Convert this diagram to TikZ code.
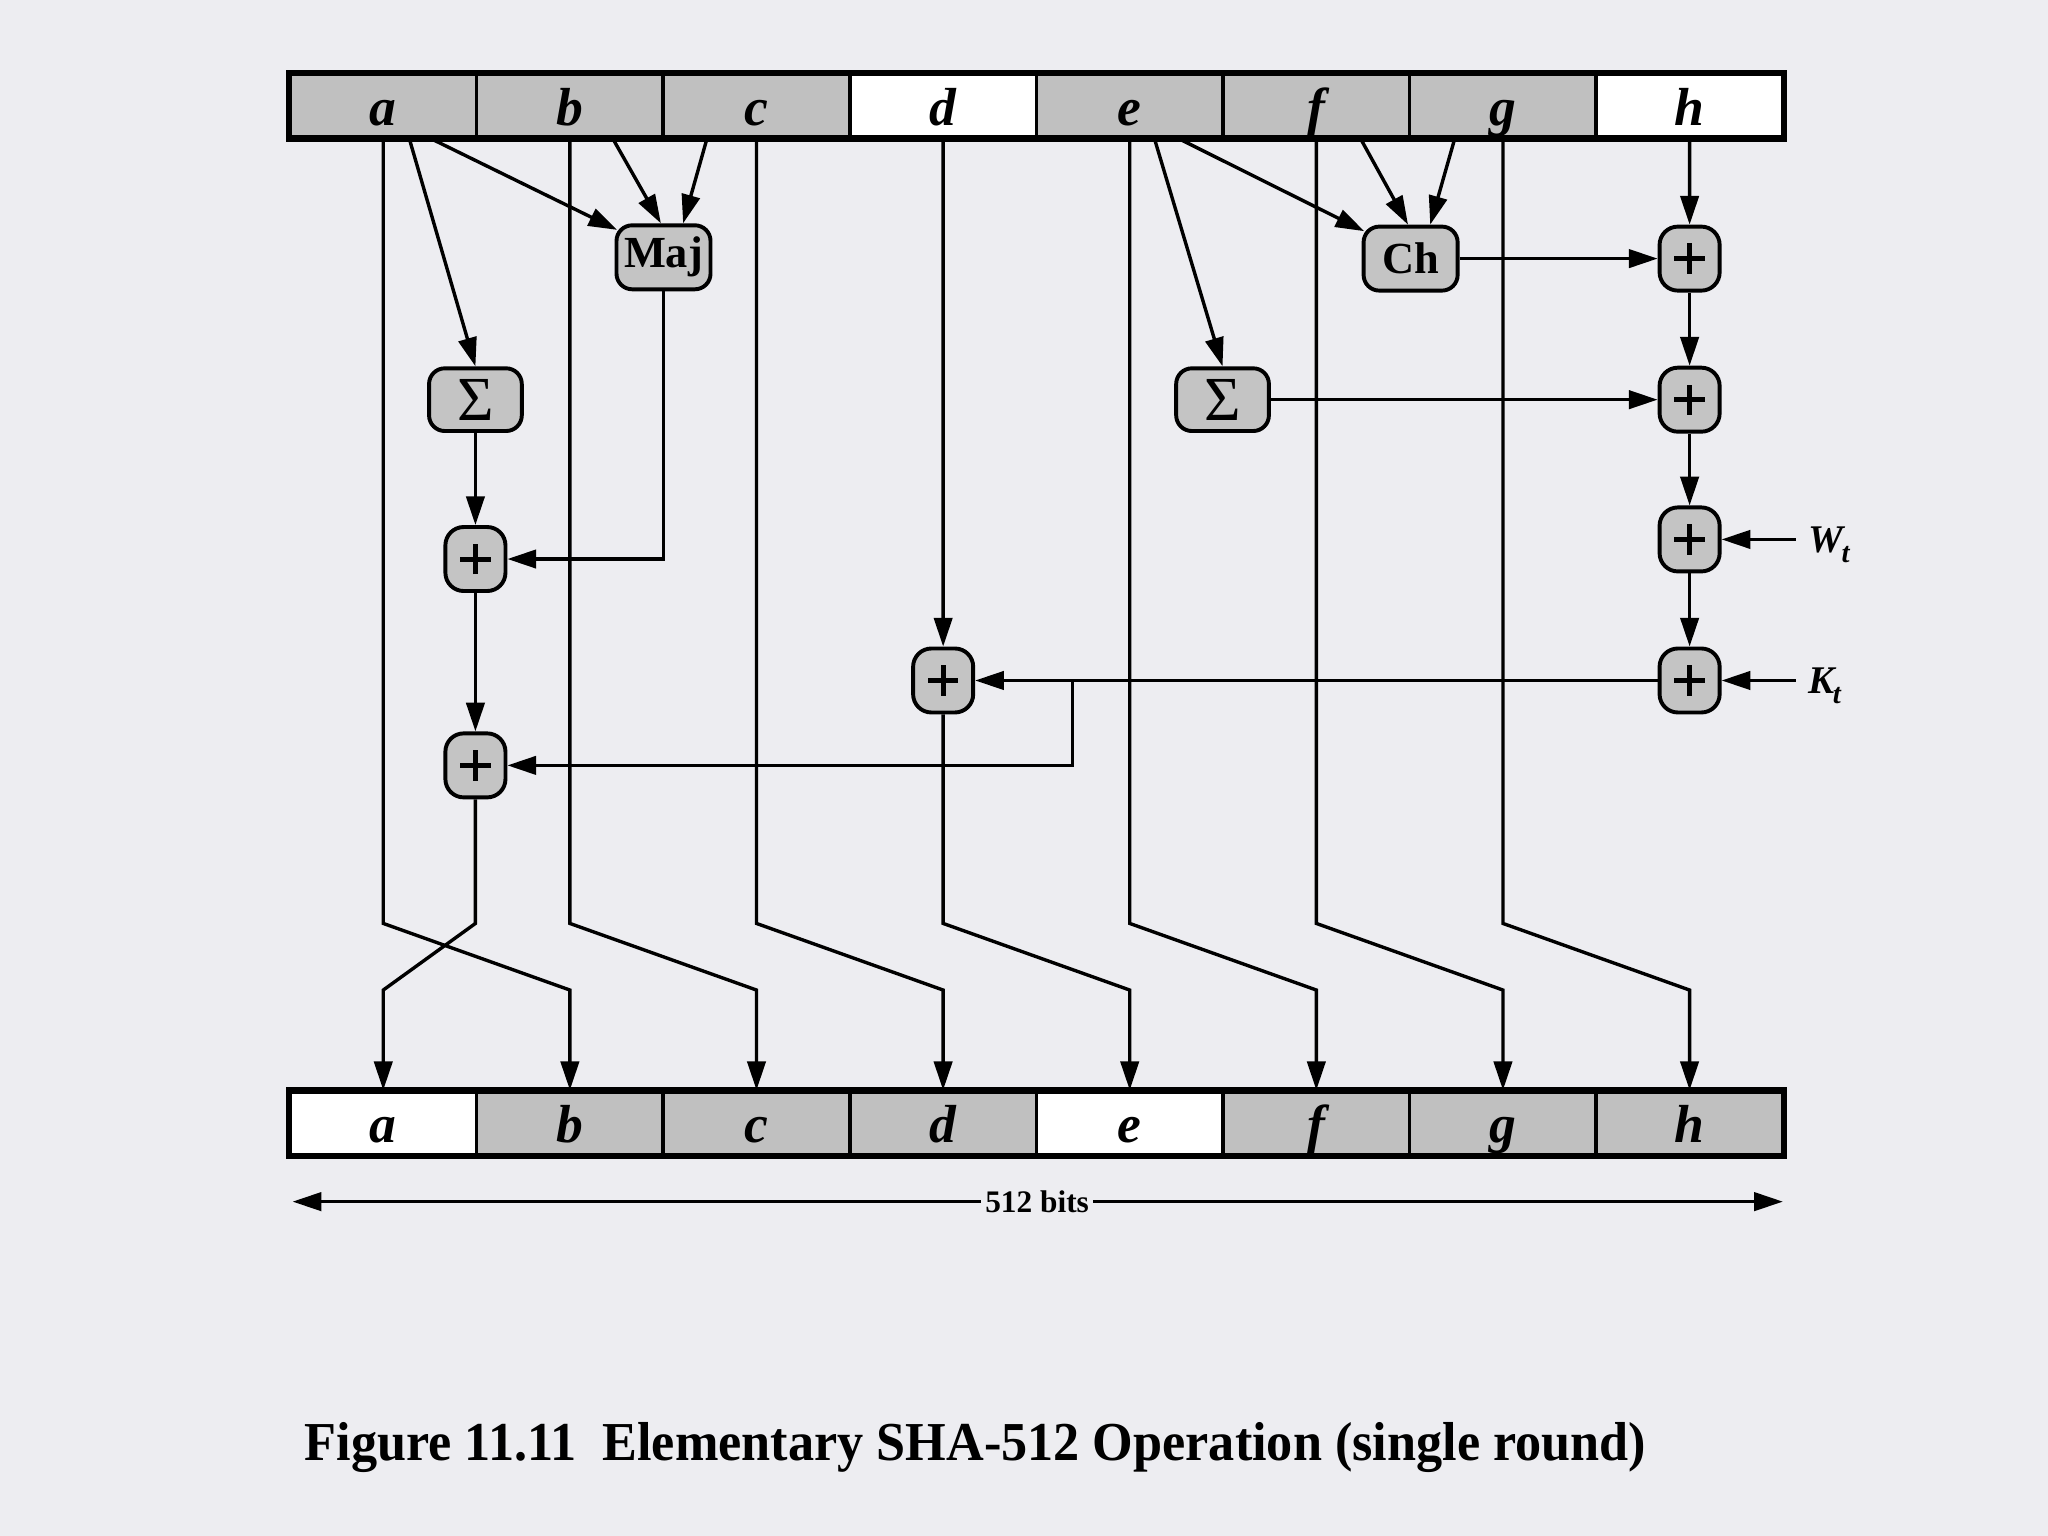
\documentclass[tikz,border=0pt]{standalone}
\usepackage{fontspec}
\setmainfont{Liberation Serif}
\usepackage{graphicx}
\usetikzlibrary{arrows.meta,calc}
\definecolor{paper}{RGB}{237,237,241}
\definecolor{cellgray}{RGB}{192,192,192}
\definecolor{boxgray}{RGB}{196,196,196}
\begin{document}
\begin{tikzpicture}[x=0.5pt,y=-0.5pt,line width=1.3pt,
  arr/.style={-{Triangle[length=11pt,width=7pt]}},
  cell/.style={draw,line width=1.4pt,minimum width=71.4375pt,minimum height=24pt,inner sep=0pt,
    text height=19.5pt,text depth=4.5pt,font=\fontsize{20.5}{20.5}\selectfont\bfseries\itshape},
  fbox/.style={draw,line width=1.5pt,fill=boxgray,rounded corners=6pt,inner sep=0pt},
  adder/.style={fbox,minimum width=23pt,minimum height=24.5pt,rounded corners=7pt,
    path picture={\draw[line width=1.9pt,black,sharp corners]
      ([xshift=-5.8pt]path picture bounding box.center) -- ([xshift=5.8pt]path picture bounding box.center)
      ([yshift=-5.8pt]path picture bounding box.center) -- ([yshift=5.8pt]path picture bounding box.center);}},
  sigbox/.style={fbox,minimum width=35.5pt,minimum height=24pt,font=\fontsize{24}{24}\selectfont},
  fnbox/.style={fbox,minimum width=36pt,minimum height=24.5pt,font=\fontsize{17}{17}\selectfont\bfseries},
  inlabel/.style={anchor=west,inner xsep=4pt,inner ysep=0pt,text depth=0pt,font=\fontsize{15}{15}\selectfont\bfseries\itshape}
]
% background and bounds
\fill[paper] (0,0) rectangle (1568,1176);
\useasboundingbox (0,0) rectangle (1568,1176);

% registers
\foreach \l/\f [count=\i] in {a/cellgray,b/cellgray,c/cellgray,d/white,e/cellgray,f/cellgray,g/cellgray,h/white}
  \node[cell,fill=\f] (t\l) at ({222+142.875*(\i-0.5)},81) {\l};
\foreach \l/\f [count=\i] in {a/white,b/cellgray,c/cellgray,d/cellgray,e/white,f/cellgray,g/cellgray,h/cellgray}
  \node[cell,fill=\f] (b\l) at ({222+142.875*(\i-0.5)},860) {\l};
\draw[line width=2pt] (ta.north west) rectangle (th.south east);
\draw[line width=2pt] (ba.north west) rectangle (bh.south east);

% function boxes
\node[fnbox] (maj) at (508,197) {Maj};
\node[fnbox] (ch) at (1080,198) {Ch};
\node[sigbox] (sig1) at (364,306) {Σ};
\node[sigbox] (sig2) at (936,306) {Σ};

% adders
\node[adder] (s1) at (364,428) {};
\node[adder] (s2) at (364,586) {};
\node[adder] (sd) at (722.1,521) {};
\node[adder] (r1) at (1293.6,198) {};
\node[adder] (r2) at (1293.6,306) {};
\node[adder] (r3) at (1293.6,413) {};
\node[adder] (r4) at (1293.6,521) {};

% inputs W_t, K_t
\node[inlabel] (wt) at (1375,413) {W\kern-0.5pt\raisebox{-4pt}{\fontsize{11}{11}\selectfont t}};
\node[inlabel] (kt) at (1375,521) {K\kern-0.5pt\raisebox{-4pt}{\fontsize{11}{11}\selectfont t}};

% knee levels
\coordinate (knee) at (0,707);
\coordinate (knee2) at (0,758);
\coordinate (br) at (821,521);

% left side
\draw[arr] ($(ta.south)+(20,0)$) -- (sig1.north);
\draw[arr] ($(ta.south)+(37,0)$) -- ($(maj.north west)+(2,5)$);
\draw[arr] ($(tb.south)+(33,0)$) -- ($(maj.north)+(-2,0)$);
\draw[arr] ($(tc.south)+(-38,0)$) -- ($(maj.north)+(15,0)$);
\draw[arr] (maj.south) |- (s1.east);
\draw[arr] (sig1.south) -- (s1.north);
\draw[arr] (s1.south) -- (s2.north);
\draw[arr] (td.south) -- (sd.north);

% right side
\draw[arr] ($(te.south)+(19,0)$) -- (sig2.north);
\draw[arr] ($(te.south)+(38,0)$) -- ($(ch.north west)+(2,5)$);
\draw[arr] ($(tf.south)+(34,0)$) -- ($(ch.north)+(-2,0)$);
\draw[arr] ($(tg.south)+(-37,0)$) -- ($(ch.north)+(15,0)$);
\draw[arr] (th.south) -- (r1.north);
\draw[arr] (ch.east) -- (r1.west);
\draw[arr] (sig2.east) -- (r2.west);
\draw[arr] (r1.south) -- (r2.north);
\draw[arr] (r2.south) -- (r3.north);
\draw[arr] (r3.south) -- (r4.north);
\draw[arr] (wt.west) -- (r3.east);
\draw[arr] (kt.west) -- (r4.east);
\draw[arr] (r4.west) -- (sd.east);
\draw[arr] (br) |- (s2.east);

% output permutation
\foreach \s/\d in {ta/bb,tb/bc,tc/bd,sd/be,te/bf,tf/bg,tg/bh,s2/ba}
  \draw[arr] (\s.south) -- (\s.south |- knee) -- (\d.north |- knee2) -- (\d.north);

% 512 bits
\node[inner sep=1pt,font=\fontsize{12}{12}\selectfont\bfseries] (bits) at (794,920) {512 bits};
\coordinate (bl) at (224,920);
\coordinate (brr) at (1365,920);
\draw[arr] (bits) -- (bl);
\draw[arr] (bits) -- (brr);

% caption
\node[anchor=base west,inner sep=0pt,font=\fontsize{21}{21}\selectfont\bfseries] (cap) at (232,1118)
  {\scalebox{0.952}[1]{Figure 11.11\ \ Elementary SHA-512 Operation (single round)}};
\end{tikzpicture}
\end{document}
